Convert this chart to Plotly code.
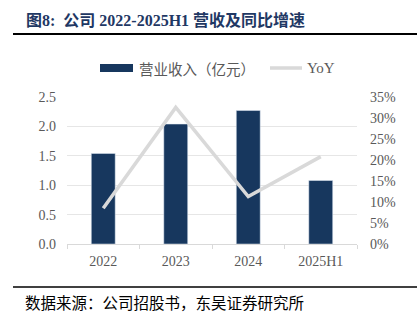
import plotly.graph_objects as go

categories = ["2022", "2023", "2024", "2025H1"]
revenue = [1.54, 2.04, 2.27, 1.08]
yoy = [8.5, 32.5, 11.3, 20.8]
left_ticks = [0.0, 0.5, 1.0, 1.5, 2.0, 2.5]
right_ticks = [0, 5, 10, 15, 20, 25, 30, 35]

title_text = "图8:  公司 2022-2025H1 营收及同比增速"
source_text = "数据来源：公司招股书，东吴证券研究所"
bar_name = "营业收入（亿元）"
line_name = "YoY"

BAR_COLOR = "#17375e"
LINE_COLOR = "#d9d9d9"
TICK_FONT = dict(family="Liberation Serif, Noto Sans CJK SC", size=14, color="#595959")

# plot area in pixels
L, R, T, B = 67, 357, 97, 244
W, H = 417, 324
def px(x):
    return (x - L) / (R - L)
def py(y):
    return (B - y) / (B - T)

fig = go.Figure()
fig.add_trace(go.Bar(x=categories, y=revenue, name=bar_name, marker_color=BAR_COLOR,
                     width=0.33, showlegend=False, yaxis="y"))
fig.add_trace(go.Scatter(x=categories, y=yoy, name=line_name, mode="lines",
                         line=dict(color=LINE_COLOR, width=3.5), showlegend=False, yaxis="y2"))

shapes = [
    # title rule
    dict(type="line", xref="paper", yref="paper", x0=px(13), x1=px(417), y0=py(34), y1=py(34),
         line=dict(color="#000000", width=2)),
    # bottom rule
    dict(type="line", xref="paper", yref="paper", x0=px(13), x1=px(417), y0=py(287), y1=py(287),
         line=dict(color="#000000", width=1.5)),
    # legend symbols
    dict(type="rect", xref="paper", yref="paper", x0=px(100), x1=px(133), y0=py(72), y1=py(64),
         fillcolor=BAR_COLOR, line=dict(width=0)),
    dict(type="line", xref="paper", yref="paper", x0=px(270), x1=px(302), y0=py(68), y1=py(68),
         line=dict(color=LINE_COLOR, width=3.5)),
]

annotations = [
    dict(text="<b>" + title_text + "</b>", xref="paper", yref="paper", x=px(24), y=py(20),
         xanchor="left", yanchor="middle", showarrow=False,
         font=dict(family="Liberation Serif, Noto Sans CJK SC", size=16, color="#1f3864")),
    dict(text=source_text, xref="paper", yref="paper", x=px(23), y=py(302),
         xanchor="left", yanchor="middle", showarrow=False,
         font=dict(family="Noto Sans CJK SC", size=15.5, color="#000000")),
    dict(text=bar_name, xref="paper", yref="paper", x=px(137), y=py(68),
         xanchor="left", yanchor="middle", showarrow=False,
         font=dict(family="Noto Sans CJK SC", size=14.5, color="#595959")),
    dict(text=line_name, xref="paper", yref="paper", x=px(305), y=py(68),
         xanchor="left", yanchor="middle", showarrow=False,
         font=dict(family="Liberation Serif", size=15, color="#595959")),
]

fig.update_layout(
    width=W, height=H,
    margin=dict(l=L, r=W - R, t=T, b=H - B, pad=0),
    paper_bgcolor="white", plot_bgcolor="white",
    shapes=shapes, annotations=annotations,
    bargap=0.67,
    xaxis=dict(type="category", showgrid=False, showline=True, linecolor="#d9d9d9", linewidth=1,
               ticks="outside", ticklen=4, tickcolor="#d9d9d9", tickson="boundaries",
               tickfont=TICK_FONT, ticklabelstandoff=4, fixedrange=True),
    yaxis=dict(range=[0, 2.5], tickvals=left_ticks, ticktext=[f"{v:.1f}" for v in left_ticks],
               showgrid=True, gridcolor="#e6e6e6", gridwidth=1, zeroline=False,
               tickfont=TICK_FONT, ticklabelstandoff=10, showline=False),
    yaxis2=dict(range=[0, 35], tickvals=right_ticks, ticktext=[f"{v}%" for v in right_ticks],
                overlaying="y", side="right", showgrid=False, zeroline=False,
                tickfont=TICK_FONT, ticklabelstandoff=12, showline=False),
    showlegend=False,
)

fig.write_html("out.html")
